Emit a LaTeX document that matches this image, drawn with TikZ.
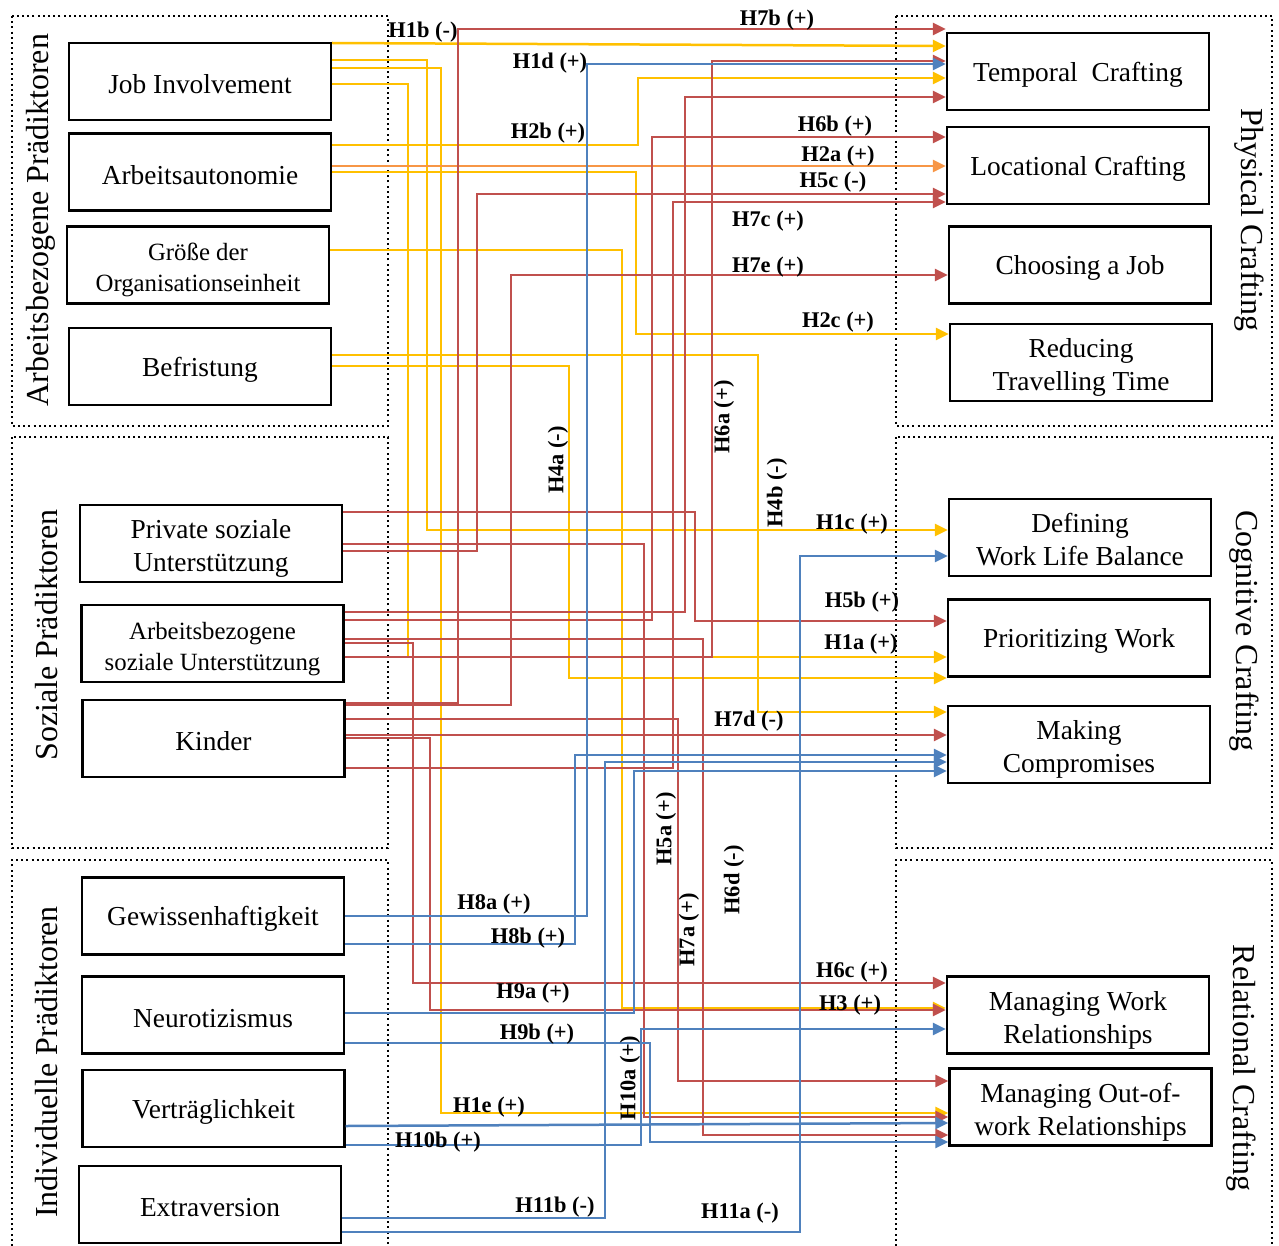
\documentclass[tikz,border=0pt]{standalone}
\usepackage{fontspec}
\setmainfont{Liberation Serif}
\usetikzlibrary{arrows.meta}

\definecolor{hred}{RGB}{192,80,77}
\definecolor{hyellow}{RGB}{255,192,0}
\definecolor{hblue}{RGB}{79,129,189}
\definecolor{horange}{RGB}{247,150,70}

\newcommand{\boxtext}[2]{\raisebox{-2.6pt}[\height][\depth]{\begin{tabular}{@{}c@{}}#1\\#2\end{tabular}}}

\begin{document}
\begin{tikzpicture}[%
x=0.5pt, y=-0.5pt,
>={Triangle[length=6.5pt,width=6pt]},
box/.style={rectangle, draw, line width=1.2pt, minimum width=131pt, minimum height=38.5pt, align=center, inner sep=1pt, font=\fontsize{13.7}{16.5}\selectfont},
onebox/.style={box, text height=12.5pt},
smallbox/.style={box, font=\fontsize{12.4}{15.5}\selectfont},
grpframe/.style={draw, line width=1pt, dash pattern=on 1pt off 1.6pt},
grplabel/.style={font=\fontsize{16}{19}\selectfont, inner sep=0pt},
hyp/.style={font=\bfseries\fontsize{11.2}{13}\selectfont, inner sep=0pt},
link/.style={line width=1.25pt},
redline/.style={link, hred},
yelline/.style={link, hyellow},
blueline/.style={link, hblue},
orline/.style={link, horange}
]
\useasboundingbox (0,0) rectangle (1279,1246);

\draw[grpframe] (12,16) rectangle (388,426);
\draw[grpframe] (12,437) rectangle (388,848);
\draw[grpframe] (12,1246) |- (388,860) -- (388,1246);
\draw[grpframe] (896,16) rectangle (1272,426);
\draw[grpframe] (896,437) rectangle (1272,848);
\draw[grpframe] (896,1246) |- (1272,860) -- (1272,1246);

\node[grplabel, rotate=90] (arb) at (41,220) {Arbeitsbezogene Prädiktoren};
\node[grplabel, rotate=90] (soz) at (47,635) {Soziale Prädiktoren};
\node[grplabel, rotate=90] (ind) at (47,1062) {Individuelle Prädiktoren};
\node[grplabel, rotate=-90] (phy) at (1249,220) {Physical Crafting};
\node[grplabel, rotate=-90] (cog) at (1244,631) {Cognitive Crafting};
\node[grplabel, rotate=-90] (rel) at (1241,1068) {Relational Crafting};

\node[onebox] (ji) at (200,81.5) {Job Involvement};
\node[onebox] (aa) at (200,172) {Arbeitsautonomie};
\node[smallbox] (go) at (198,265) {\boxtext{Größe der}{Organisationseinheit}};
\node[onebox] (bf) at (200,366.5) {Befristung};
\node[box] (ps) at (211,543.5) {\boxtext{Private soziale}{Unterstützung}};
\node[smallbox] (as) at (212.5,643.5) {\boxtext{Arbeitsbezogene}{soziale Unterstützung}};
\node[onebox] (ki) at (213.5,738.5) {Kinder};
\node[onebox] (gw) at (213,916) {Gewissenhaftigkeit};
\node[onebox] (ne) at (213,1015) {Neurotizismus};
\node[onebox] (vt) at (213.5,1108.5) {Verträglichkeit};
\node[onebox] (ex) at (210,1204.5) {Extraversion};

\node[onebox] (tc) at (1078,71.5) {Temporal\ \ Crafting};
\node[onebox] (lc) at (1078,165.5) {Locational Crafting};
\node[onebox] (cj) at (1080,265) {Choosing a Job};
\node[box] (rt) at (1081,362.5) {\boxtext{Reducing}{Travelling Time}};
\node[box] (dw) at (1080,537.5) {\boxtext{Defining}{Work Life Balance}};
\node[onebox] (pw) at (1079,638) {Prioritizing Work};
\node[box] (mc) at (1079,744.5) {\boxtext{Making}{Compromises}};
\node[box] (mw) at (1078,1015) {\boxtext{Managing Work}{Relationships}};
\node[box] (mo) at (1080.5,1107) {\boxtext{Managing Out-of-}{work Relationships}};

\draw[yelline,->] (ji.east |- 0,43) -- (tc.west |- 0,46);
\draw[yelline,->] (ji.east |- 0,60) -| (427,530) -- (dw.west |- 0,530);
\draw[yelline,->] (ji.east |- 0,68) -| (441,1113) -- (mo.west |- 0,1113);
\draw[yelline,->] (ji.east |- 0,84) -| (408,657) -- (pw.west |- 0,657);
\draw[yelline,->] (aa.east |- 0,145) -| (638,78) -- (tc.west |- 0,78);
\draw[yelline,->] (aa.east |- 0,172) -| (636,334) -- (rt.west |- 0,334);
\draw[yelline,->] (go.east |- 0,250) -| (622,1008) -- (mw.west |- 0,1008);
\draw[yelline,->] (bf.east |- 0,355) -| (758,712) -- (mc.west |- 0,712);
\draw[yelline,->] (bf.east |- 0,366) -| (569,678) -- (pw.west |- 0,678);
\draw[orline,->] (aa.east |- 0,166) -- (lc.west |- 0,166);

\draw[redline,->] (ki.east |- 0,703) -| (458,29) -- (tc.west |- 0,29);
\draw[redline,->] (as.east |- 0,657) -| (712,61) -- (tc.west |- 0,61);
\draw[redline,->] (as.east |- 0,612) -| (685,97) -- (tc.west |- 0,97);
\draw[redline,->] (as.east |- 0,620) -| (652,137) -- (lc.west |- 0,137);
\draw[redline,->] (ps.east |- 0,551) -| (477,194) -- (lc.west |- 0,194);
\draw[redline,->] (ki.east |- 0,768) -| (673,202) -- (lc.west |- 0,202);
\draw[redline,->] (ki.east |- 0,705) -| (511,275) -- (cj.west |- 0,275);
\draw[redline,->] (ps.east |- 0,512) -| (695,621) -- (pw.west |- 0,621);
\draw[redline,->] (ki.east |- 0,735) -- (mc.west |- 0,735);
\draw[redline,->] (as.east |- 0,643) -| (413,983) -- (mw.west |- 0,983);
\draw[redline,->] (ki.east |- 0,738) -| (430,1010) -- (mw.west |- 0,1010);
\draw[redline,->] (ki.east |- 0,719) -| (678,1081) -- (mo.west |- 0,1081);
\draw[redline,->] (ps.east |- 0,544) -| (644,1117) -- (mo.west |- 0,1117);
\draw[redline,->] (as.east |- 0,639) -| (703,1135) -- (mo.west |- 0,1135);

\draw[blueline,->] (gw.east |- 0,916) -| (587,64) -- (tc.west |- 0,64);
\draw[blueline,->] (gw.east |- 0,944) -| (575,755) -- (mc.west |- 0,755);
\draw[blueline,->] (ex.east |- 0,1218) -| (605,762) -- (mc.west |- 0,762);
\draw[blueline,->] (ne.east |- 0,1013) -| (634,771) -- (mc.west |- 0,771);
\draw[blueline,->] (ex.east |- 0,1232) -| (800,556) -- (dw.west |- 0,556);
\draw[blueline,->] (vt.east |- 0,1145) -| (641,1029) -- (mw.west |- 0,1029);
\draw[blueline,->] (ne.east |- 0,1043) -| (650,1142) -- (mo.west |- 0,1142);
\draw[blueline,->] (vt.east |- 0,1126) -- (mo.west |- 0,1123);

\node[hyp] (h7b) at (777,20) {H7b (+)};
\node[hyp] (h1b) at (423,32) {H1b (-)};
\node[hyp] (h1d) at (550,63) {H1d (+)};
\node[hyp] (h2b) at (548,133) {H2b (+)};
\node[hyp] (h6b) at (835,126) {H6b (+)};
\node[hyp] (h2a) at (838,156) {H2a (+)};
\node[hyp] (h5c) at (833,182) {H5c (-)};
\node[hyp] (h7c) at (768,221) {H7c (+)};
\node[hyp] (h7e) at (768,267) {H7e (+)};
\node[hyp] (h2c) at (838,322) {H2c (+)};
\node[hyp] (h1c) at (852,524) {H1c (+)};
\node[hyp] (h5b) at (862,602) {H5b (+)};
\node[hyp] (h1a) at (861,644) {H1a (+)};
\node[hyp] (h7d) at (749,721) {H7d (-)};
\node[hyp] (h8a) at (494,904) {H8a (+)};
\node[hyp] (h8b) at (528,938) {H8b (+)};
\node[hyp] (h6c) at (852,972) {H6c (+)};
\node[hyp] (h3) at (850,1005) {H3 (+)};
\node[hyp] (h9a) at (533,993) {H9a (+)};
\node[hyp] (h9b) at (537,1034) {H9b (+)};
\node[hyp] (h1e) at (489,1107) {H1e (+)};
\node[hyp] (h10b) at (438,1142) {H10b (+)};
\node[hyp] (h11b) at (555,1207) {H11b (-)};
\node[hyp] (h11a) at (740,1213) {H11a (-)};
\node[hyp, rotate=90] (h6a) at (724,417) {H6a (+)};
\node[hyp, rotate=90] (h4a) at (558,460) {H4a (-)};
\node[hyp, rotate=90] (h4b) at (777,493) {H4b (-)};
\node[hyp, rotate=90] (h5a) at (666,829) {H5a (+)};
\node[hyp, rotate=90] (h7a) at (689,930) {H7a (+)};
\node[hyp, rotate=90] (h6d) at (734,880) {H6d (-)};
\node[hyp, rotate=90] (h10a) at (630,1078) {H10a (+)};
\end{tikzpicture}
\end{document}
